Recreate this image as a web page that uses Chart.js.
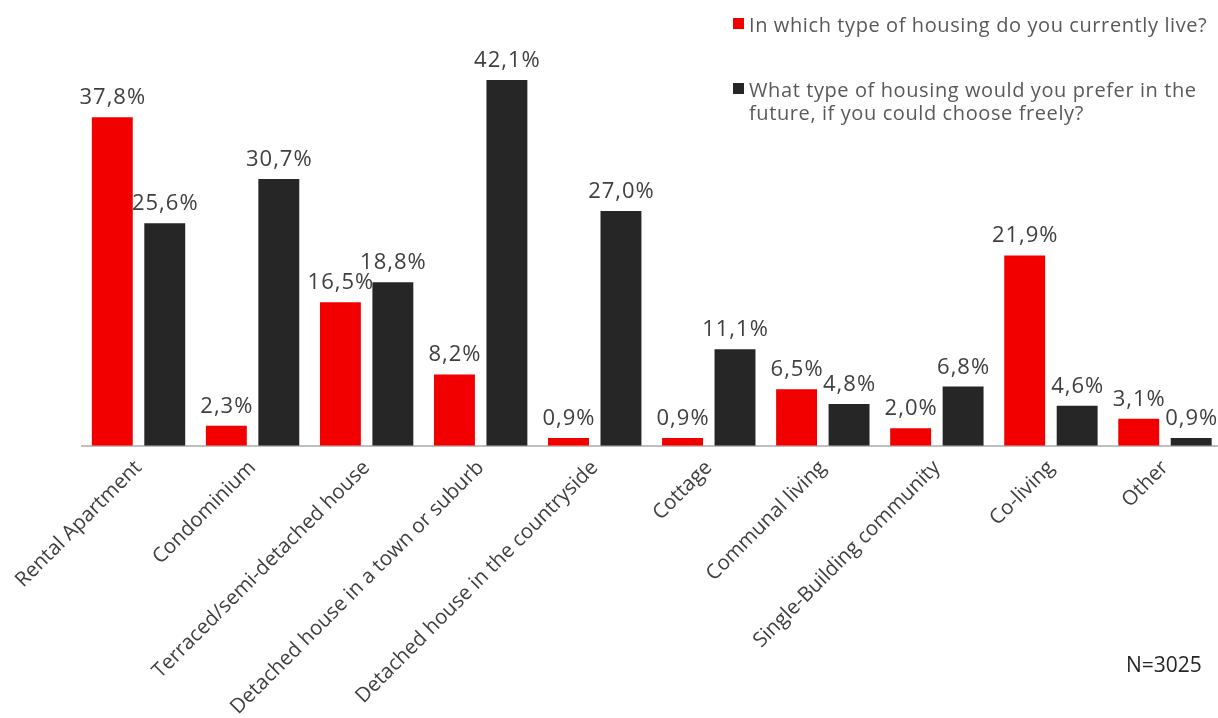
<!DOCTYPE html>
<html>
<head>
<meta charset="utf-8">
<script src="https://cdn.jsdelivr.net/npm/chart.js@4/dist/chart.umd.min.js"></script>
<style>
  html, body { margin: 0; padding: 0; background: #fff; overflow: hidden; }
  #wrap { position: relative; width: 1222px; height: 718px; }
</style>
</head>
<body>
<div id="wrap"><canvas id="housing"></canvas></div>
<script>
var categories = ['Rental Apartment', 'Condominium', 'Terraced/semi-detached house',
  'Detached house in a town or suburb', 'Detached house in the countryside', 'Cottage',
  'Communal living', 'Single-Building community', 'Co-living', 'Other'];
var currentHousing = [37.8, 2.3, 16.5, 8.2, 0.9, 0.9, 6.5, 2.0, 21.9, 3.1];
var preferredHousing = [25.6, 30.7, 18.8, 42.1, 27.0, 11.1, 4.8, 6.8, 4.6, 0.9];
var seriesLabels = ['In which type of housing do you currently live?',
  'What type of housing would you prefer in the future, if you could choose freely?'];
var sampleNote = 'N=3025';

var RED = '#f20000';
var DARK = '#262626';
var FONT = '"Open Sans", sans-serif';

function fmt(v) {
  return v.toFixed(1).replace('.', ',') + '%';
}

// value labels above bars
var barLabels = {
  id: 'barLabels',
  afterDatasetsDraw: function(chart) {
    var ctx = chart.ctx;
    ctx.save();
    ctx.font = '22px ' + FONT;
    ctx.letterSpacing = '1px';
    ctx.fillStyle = '#404040';
    ctx.textAlign = 'center';
    ctx.textBaseline = 'alphabetic';
    chart.data.datasets.forEach(function(ds, i) {
      chart.getDatasetMeta(i).data.forEach(function(bar, j) {
        ctx.fillText(fmt(ds.data[j]), bar.x + 0.5, bar.y - 13);
      });
    });
    ctx.restore();
  }
};

// legend top right + sample size
var sideText = {
  id: 'sideText',
  afterDraw: function(chart) {
    var ctx = chart.ctx;
    ctx.save();
    ctx.font = '20px ' + FONT;
    ctx.letterSpacing = '0.6px';
    ctx.textBaseline = 'alphabetic';
    ctx.textAlign = 'left';
    var tops = [18, 83];
    chart.data.datasets.forEach(function(ds, i) {
      ctx.fillStyle = ds.backgroundColor;
      ctx.fillRect(733, tops[i], 11, 11);
      ctx.fillStyle = '#595959';
      var words = ds.label.split(' ');
      var line = '', y = tops[i] + 14;
      words.forEach(function(w) {
        var test = line ? line + ' ' + w : w;
        if (ctx.measureText(test).width > 468 && line) {
          ctx.fillText(line, 749, y);
          line = w;
          y += 23;
        } else {
          line = test;
        }
      });
      ctx.fillText(line, 749, y);
    });
    ctx.font = '21px ' + FONT;
    ctx.letterSpacing = '0px';
    ctx.fillStyle = '#262626';
    ctx.fillText(sampleNote, 1126, 672);
    ctx.restore();
  }
};

window.onload = function() {
  var ctx = document.getElementById('housing').getContext('2d');
  window.housingChart = new Chart(ctx, {
    type: 'bar',
    data: {
      labels: categories,
      datasets: [{
        label: seriesLabels[0],
        data: currentHousing,
        backgroundColor: RED
      }, {
        label: seriesLabels[1],
        data: preferredHousing,
        backgroundColor: DARK
      }]
    },
    options: {
      responsive: true,
      maintainAspectRatio: false,
      animation: false,
      categoryPercentage: 0.92,
      barPercentage: 0.78,
      layout: { padding: { left: 81.5, right: 0, top: 11.3, bottom: 0 } },
      plugins: {
        legend: { display: false },
        tooltip: { enabled: false }
      },
      scales: {
        y: {
          display: false,
          min: 0,
          max: 50
        },
        x: {
          grid: { display: false, drawTicks: false },
          border: { color: '#bfbfbf', width: 2 },
          ticks: {
            minRotation: 45,
            maxRotation: 45,
            padding: 10,
            color: '#404040',
            font: { family: FONT, size: 20.5 }
          },
          afterFit: function(scale) {
            scale.height = 718 - 445.7;
            scale.paddingLeft = 0;
            scale.paddingRight = 0;
          }
        }
      }
    },
    plugins: [barLabels, sideText]
  });
};
</script>
</body>
</html>
